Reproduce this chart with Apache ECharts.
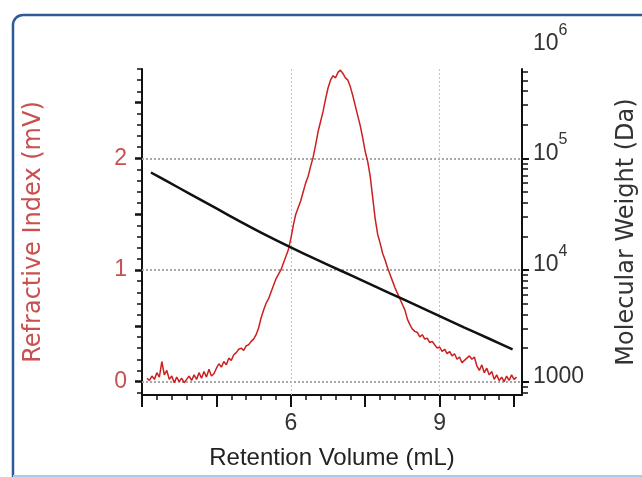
<!DOCTYPE html>
<html>
<head>
<meta charset="utf-8">
<script src="https://cdn.jsdelivr.net/npm/echarts@6/dist/echarts.min.js"></script>
<style>
  html, body { margin: 0; padding: 0; background: #fff; }
  #chart { width: 642px; height: 477px; }
</style>
</head>
<body>
<div id="chart"></div>
<script>
// RI trace, every 0.05 mL
const retentionVolume = [
  3.10, 3.15, 3.20, 3.25, 3.30, 3.35, 3.40, 3.45, 3.50, 3.55,
  3.60, 3.65, 3.70, 3.75, 3.80, 3.85, 3.90, 3.95, 4.00, 4.05,
  4.10, 4.15, 4.20, 4.25, 4.30, 4.35, 4.40, 4.45, 4.50, 4.55,
  4.60, 4.65, 4.70, 4.75, 4.80, 4.85, 4.90, 4.95, 5.00, 5.05,
  5.10, 5.15, 5.20, 5.25, 5.30, 5.35, 5.40, 5.45, 5.50, 5.55,
  5.60, 5.65, 5.70, 5.75, 5.80, 5.85, 5.90, 5.95, 6.00, 6.05,
  6.10, 6.15, 6.20, 6.25, 6.30, 6.35, 6.40, 6.45, 6.50, 6.55,
  6.60, 6.65, 6.70, 6.75, 6.80, 6.85, 6.90, 6.95, 7.00, 7.05,
  7.10, 7.15, 7.20, 7.25, 7.30, 7.35, 7.40, 7.45, 7.50, 7.55,
  7.60, 7.65, 7.70, 7.75, 7.80, 7.85, 7.90, 7.95, 8.00, 8.05,
  8.10, 8.15, 8.20, 8.25, 8.30, 8.35, 8.40, 8.45, 8.50, 8.55,
  8.60, 8.65, 8.70, 8.75, 8.80, 8.85, 8.90, 8.95, 9.00, 9.05,
  9.10, 9.15, 9.20, 9.25, 9.30, 9.35, 9.40, 9.45, 9.50, 9.55,
  9.60, 9.65, 9.70, 9.75, 9.80, 9.85, 9.90, 9.95, 10.00, 10.05,
  10.10, 10.15, 10.20, 10.25, 10.30, 10.35, 10.40, 10.45, 10.50, 10.55
];
const refractiveIndex = [
  0.03, 0.01, 0.05, 0.02, 0.08, 0.04, 0.18, 0.06, 0.10, 0.02,
  0.05, -0.01, 0.04, 0.00, 0.03, -0.01, 0.02, 0.05, 0.01, 0.06,
  0.02, 0.08, 0.03, 0.09, 0.04, 0.11, 0.05, 0.07, 0.12, 0.16,
  0.13, 0.18, 0.15, 0.21, 0.19, 0.24, 0.26, 0.29, 0.30, 0.28,
  0.32, 0.33, 0.36, 0.38, 0.42, 0.48, 0.57, 0.64, 0.70, 0.74,
  0.80, 0.86, 0.92, 0.96, 1.00, 1.06, 1.12, 1.18, 1.28, 1.40,
  1.50, 1.56, 1.62, 1.70, 1.78, 1.84, 1.93, 2.01, 2.12, 2.24,
  2.33, 2.42, 2.53, 2.63, 2.70, 2.74, 2.72, 2.77, 2.79, 2.76,
  2.72, 2.70, 2.64, 2.56, 2.47, 2.38, 2.29, 2.18, 2.06, 1.97,
  1.84, 1.65, 1.46, 1.32, 1.24, 1.15, 1.09, 1.02, 0.96, 0.90,
  0.84, 0.79, 0.74, 0.69, 0.64, 0.56, 0.51, 0.47, 0.45, 0.44,
  0.40, 0.42, 0.38, 0.39, 0.35, 0.36, 0.33, 0.30, 0.31, 0.27,
  0.29, 0.25, 0.27, 0.23, 0.25, 0.20, 0.22, 0.17, 0.19, 0.21,
  0.23, 0.20, 0.22, 0.14, 0.10, 0.15, 0.08, 0.12, 0.06, 0.09,
  0.02, 0.06, 0.01, 0.04, 0.00, 0.05, 0.01, 0.06, 0.02, 0.04
];

// calibration curve (MW vs volume)
const calibVolume = [3.18, 3.5, 4.0, 4.5, 5.0, 5.5, 6.0, 6.5, 7.0, 7.5, 8.0, 8.5, 9.0, 9.5, 10.0, 10.47];
const molecularWeight = [74650, 62370, 47100, 35560, 26850, 20510, 15920, 12500, 9890, 7820, 6180, 4890, 3860, 3050, 2420, 1940];

// axis ticks and labels
const xMajorTicks = [3, 4.5, 6, 7.5, 9, 10.5];
const xMinorTicks = [3.3, 3.6, 3.9, 4.2, 4.8, 5.1, 5.4, 5.7, 6.3, 6.6, 6.9, 7.2, 7.8, 8.1, 8.4, 8.7, 9.3, 9.6, 9.9, 10.2];
const xLabels = [6, 9];
const riMajorTicks = [0, 0.5, 1, 1.5, 2, 2.5];
const riMinorTicks = [-0.1, 0.1, 0.2, 0.3, 0.4, 0.6, 0.7, 0.8, 0.9, 1.1, 1.2, 1.3, 1.4, 1.6, 1.7, 1.8, 1.9, 2.1, 2.2, 2.3, 2.4, 2.6, 2.7, 2.8];
const riLabels = [0, 1, 2];
const mwMajorTicks = [1000, 10000, 100000];
const mwMinorTicks = [800, 900, 2000, 3000, 4000, 5000, 6000, 7000, 8000, 9000,
  20000, 30000, 40000, 50000, 60000, 70000, 80000, 90000, 200000, 300000, 400000, 500000, 600000];
const mwLabels = [1000, 10000, 100000, 1000000];

const TICK_FONT = '"Liberation Sans", Arial, sans-serif';
const TITLE_FONT = '"DejaVu Sans", Verdana, sans-serif';
const RI_RED = '#cc1f1f';
const LABEL_RED = '#c9504f';
const X_MIN = 3, X_MAX = 10.66;
const RI_MIN = -0.12, RI_MAX = 2.8;
const MW_MIN = Math.pow(10, 3 + RI_MIN), MW_MAX = Math.pow(10, 3 + RI_MAX);

const supRich = {
  b: { fontFamily: TICK_FONT, fontSize: 23, color: '#333', padding: [10, 0, 20, 0] },
  s: { fontFamily: TICK_FONT, fontSize: 16, color: '#333', verticalAlign: 'top' }
};
function mwLabel(v) {
  if (v === 1000) return '{b|1000}';
  return '{b|10}{s|' + Math.round(Math.log10(v)) + '}';
}

const chart = echarts.init(document.getElementById('chart'));

const gridLine = (c, w) => ({ type: [2, 2], color: c, width: w });

chart.setOption({
  animation: false,
  backgroundColor: '#fff',
  grid: { left: 142, right: 120, top: 69, bottom: 82, containLabel: false, outerBoundsMode: 'none' },
  xAxis: [
    {
      type: 'value', position: 'bottom', min: X_MIN, max: X_MAX,
      name: 'Retention Volume (mL)', nameLocation: 'middle', nameGap: 51,
      nameTextStyle: { fontFamily: TICK_FONT, fontSize: 24, color: '#222' },
      axisLine: { onZero: false, lineStyle: { color: '#111', width: 2 } },
      axisTick: { customValues: xMajorTicks, length: 12, lineStyle: { color: '#111', width: 2 } },
      axisLabel: { customValues: xLabels, margin: 17, fontFamily: TICK_FONT, fontSize: 23, color: '#333' },
      splitLine: { show: false }
    },
    {
      type: 'value', position: 'bottom', offset: 0, min: X_MIN, max: X_MAX,
      axisLine: { show: false, onZero: false },
      axisTick: { customValues: xMinorTicks, length: 5, lineStyle: { color: '#111', width: 1.5 } },
      axisLabel: { show: false },
      splitLine: { show: false }
    }
  ],
  yAxis: [
    {
      type: 'value', position: 'left', min: RI_MIN, max: RI_MAX,
      name: 'Refractive Index (mV)', nameLocation: 'middle', nameGap: 96, nameRotate: 90,
      nameTextStyle: { fontFamily: TITLE_FONT, fontSize: 24, color: LABEL_RED },
      axisLine: { lineStyle: { color: '#111', width: 2 } },
      axisTick: { customValues: riMajorTicks, length: 7, lineStyle: { color: '#111', width: 2.5 } },
      axisLabel: { customValues: riLabels, margin: 15, fontFamily: TICK_FONT, fontSize: 23, color: LABEL_RED },
      splitLine: { show: false }
    },
    {
      type: 'value', position: 'left', offset: 0, min: RI_MIN, max: RI_MAX,
      axisLine: { show: false },
      axisTick: { customValues: riMinorTicks, length: 5, lineStyle: { color: '#111', width: 1.5 } },
      axisLabel: { show: false },
      splitLine: { show: false }
    },
    {
      type: 'log', position: 'right', min: MW_MIN, max: MW_MAX,
      name: 'Molecular Weight (Da)', nameLocation: 'middle', nameGap: 93, nameRotate: 90,
      nameTextStyle: { fontFamily: TITLE_FONT, fontSize: 24, color: '#333' },
      axisLine: { lineStyle: { color: '#111', width: 2 } },
      axisTick: { customValues: mwMajorTicks, length: 7, lineStyle: { color: '#111', width: 2 } },
      axisLabel: { customValues: mwLabels.slice(0, 3), margin: 11, formatter: mwLabel, rich: supRich },
      splitLine: { show: false }
    },
    {
      type: 'log', position: 'right', offset: 0, min: MW_MIN, max: MW_MAX,
      axisLine: { show: false },
      axisTick: { customValues: mwMinorTicks, length: 6, lineStyle: { color: '#111', width: 1.5 } },
      axisLabel: { show: false },
      splitLine: { show: false }
    }
  ],
  series: [
    {
      name: 'Refractive Index', type: 'line', xAxisIndex: 0, yAxisIndex: 0, z: 3,
      data: retentionVolume.map((v, i) => [v, refractiveIndex[i]]),
      showSymbol: false,
      lineStyle: { color: RI_RED, width: 1.5 },
      markLine: {
        silent: true, symbol: 'none', z: 1, label: { show: false },
        data: riLabels.map(v => ({ yAxis: v, lineStyle: gridLine('#a8a8a8', 2) }))
          .concat(xLabels.map(v => ({ xAxis: v, lineStyle: gridLine('#c4c4c4', 1) })))
      }
    },
    {
      name: 'Molecular Weight', type: 'line', xAxisIndex: 0, yAxisIndex: 2, z: 4,
      data: calibVolume.map((v, i) => [v, molecularWeight[i]]),
      showSymbol: false, smooth: 0.3,
      lineStyle: { color: '#111', width: 2.5 }
    }
  ]
});

// 10^6 sits above the end of the MW axis, so place it from the axis scale
const topPx = chart.convertToPixel({ yAxisIndex: 2 }, mwLabels[3]);
const axisPx = chart.convertToPixel({ xAxisIndex: 0 }, X_MAX);
chart.setOption({
  graphic: [
    {
      type: 'rect', silent: true, z: 0,
      shape: { x: 13, y: 15, width: 700, height: 500, r: 10 },
      style: { fill: 'none', stroke: '#2d5b96', lineWidth: 2.5 }
    },
    {
      type: 'line', silent: true,
      shape: { x1: 13, y1: 476, x2: 642, y2: 476 },
      style: { stroke: '#a9cbe9', lineWidth: 2 }
    },
    {
      type: 'text', silent: true, x: axisPx + 11, y: topPx + 2,
      style: { text: mwLabel(mwLabels[3]), rich: supRich, fill: '#333', align: 'left', verticalAlign: 'middle' }
    }
  ]
});
</script>
</body>
</html>
